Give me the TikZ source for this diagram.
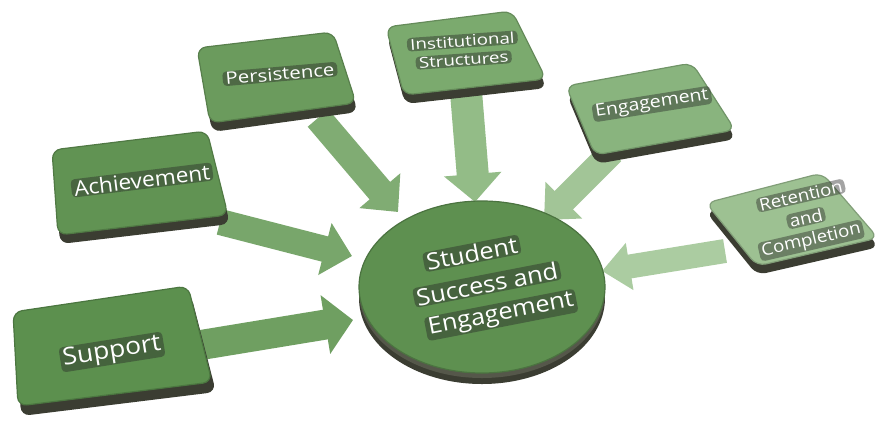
\documentclass[tikz,border=0pt]{standalone}
\usepackage{fontspec}
\setmainfont{Open Sans}
\usetikzlibrary{arrows.meta,calc,shapes.geometric}

% palette
\definecolor{rimdark}{HTML}{3B3D32}
\definecolor{rimmid}{HTML}{55574A}
\definecolor{boxA}{HTML}{5C904E}
\definecolor{boxB}{HTML}{619353}
\definecolor{boxC}{HTML}{6B9B5D}
\definecolor{boxD}{HTML}{7BAA6E}
\definecolor{boxE}{HTML}{89B47E}
\definecolor{boxF}{HTML}{9DC192}
\definecolor{hubgreen}{HTML}{5E9050}
\definecolor{arrA}{HTML}{6F9F61}
\definecolor{arrB}{HTML}{78A66B}
\definecolor{arrC}{HTML}{80AC73}
\definecolor{arrD}{HTML}{93BC87}
\definecolor{arrE}{HTML}{A2C597}
\definecolor{arrF}{HTML}{ABCCA1}

% one line of white lettering on a dark band: name, position, size, xscale, text
\newcommand\bandtext[5]{%
  \node[labeltext, xscale=#4, transform shape,
        font=\fontsize{#3}{#3}\selectfont] (#1) at (#2) {#5};%
}

\begin{document}
\begin{tikzpicture}[x=1pt,y=-1pt,
  rim/.style={fill=rimdark, rounded corners=9pt},
  face/.style={fill=#1, draw=#1!82!black, line width=1.2pt, rounded corners=9pt},
  blockarrow/.style n args={3}{draw=#1, line width=#2,
     -{Triangle[width=#3, length=28pt, fill=#1]}},
  labeltext/.style={text=white, fill=black!85, fill opacity=0.42, text opacity=1,
     inner xsep=2.5pt, inner ysep=1pt, rounded corners=4pt}]

\useasboundingbox (0,0) rectangle (881,424);
\fill[white] (0,0) rectangle (881,424);

% ---- anchor points -------------------------------------------------
\coordinate (support) at (112,352);
\coordinate (achieve) at (142,180);
\coordinate (persist) at (280,74);
\coordinate (instit)  at (463,50);
\coordinate (engage)  at (652,104);
\coordinate (retain)  at (806,218);

\coordinate (support-out) at (195,346);
\coordinate (achieve-out) at (220,222);
\coordinate (persist-out) at (318,118);
\coordinate (instit-out)  at (466,92);
\coordinate (engage-out)  at (612,152);
\coordinate (retain-out)  at (725,251);

\coordinate (hub-w)  at (353,320);
\coordinate (hub-nw) at (352,256);
\coordinate (hub-n1) at (398,212);
\coordinate (hub-n2) at (475,202);
\coordinate (hub-ne) at (544,220);
\coordinate (hub-e)  at (602,271);

% ---- block arrows into the hub ---------------------------------------
\draw[blockarrow={arrA}{30pt}{58pt}] (support-out) -- (hub-w);
\draw[blockarrow={arrB}{26pt}{52pt}] (achieve-out) -- (hub-nw);
\draw[blockarrow={arrC}{27pt}{52pt}] (persist-out) -- (hub-n1);
\draw[blockarrow={arrD}{32pt}{56pt}] (instit-out) -- (hub-n2);
\draw[blockarrow={arrE}{26pt}{50pt}] (engage-out) -- (hub-ne);
\draw[blockarrow={arrF}{24pt}{46pt}] (retain-out) -- (hub-e);

% ---- tiles ----------------------------------------------------------
% Support
\fill[rim] (16,321) -- (191,295) -- (216,392) -- (21,416) -- cycle;
\draw[face=boxA] (13,312) -- (188,286) -- (212,382) -- (18,406) -- cycle;
% Achievement
\fill[rim] (54,159) -- (209,140) -- (230,224) -- (60,244) -- cycle;
\draw[face=boxB] (52,150) -- (207,131) -- (228,215) -- (58,235) -- cycle;
% Persistence
\fill[rim] (199,57) -- (335,41) -- (358,112) -- (212,132) -- cycle;
\draw[face=boxC] (197,48) -- (333,32) -- (356,103) -- (210,123) -- cycle;
% Institutional Structures
\fill[rim] (387,36) -- (513,20) -- (547,88) -- (405,104) -- cycle;
\draw[face=boxD] (386,27) -- (512,11) -- (546,79) -- (404,95) -- cycle;
% Engagement
\fill[rim] (567,95) -- (693,72) -- (736,139) -- (596,164) -- cycle;
\draw[face=boxE] (566,86) -- (692,63) -- (735,130) -- (595,155) -- cycle;
% Retention and Completion
\fill[rim] (706,212) -- (822,182) -- (879,247) -- (757,275) -- cycle;
\draw[face=boxF] (706,203) -- (822,173) -- (878,238) -- (757,266) -- cycle;

% ---- hub disc -------------------------------------------------------
\coordinate (hub-c) at (482,287);
\fill[rimdark] ($(hub-c)+(0,11)$) ellipse [x radius=123pt, y radius=86pt];
\fill[rimmid] ($(hub-c)+(0,5)$) ellipse [x radius=123pt, y radius=86pt];
\node[ellipse, fill=hubgreen, draw=hubgreen!80!black, line width=1.2pt,
      minimum width=246pt, minimum height=172pt, inner sep=0pt] (hub) at (hub-c) {};

% ---- labels ---------------------------------------------------------
\begin{scope}[shift={(support)}, rotate=9]
  \bandtext{support-t}{0,0}{24}{1.1}{Support}
\end{scope}
\begin{scope}[shift={(achieve)}, rotate=7]
  \bandtext{achieve-t}{0,0}{21}{1.08}{Achievement}
\end{scope}
\begin{scope}[shift={(persist)}, rotate=5]
  \bandtext{persist-t}{0,0}{17}{1.2}{Persistence}
\end{scope}
\begin{scope}[shift={(instit)}, rotate=4]
  \bandtext{instit-t1}{0,-9}{15}{1.25}{Institutional}
  \bandtext{instit-t2}{0,10}{15}{1.25}{Structures}
\end{scope}
\begin{scope}[shift={(engage)}, rotate=9]
  \bandtext{engage-t}{0,0}{17}{1.15}{Engagement}
\end{scope}
\begin{scope}[shift={(retain)}, rotate=13]
  \bandtext{retain-t1}{0,-23}{17}{1.1}{Retention}
  \bandtext{retain-t2}{0,0}{17}{1.1}{and}
  \bandtext{retain-t3}{0,23}{17}{1.1}{Completion}
\end{scope}
\begin{scope}[shift={(487,284)}, rotate=11]
  \bandtext{hub-t1}{-9,-33}{23}{1.1}{Student}
  \bandtext{hub-t2}{0,0}{23}{1.1}{Success and}
  \bandtext{hub-t3}{8,33}{23}{1.1}{Engagement}
\end{scope}

\end{tikzpicture}
\end{document}
